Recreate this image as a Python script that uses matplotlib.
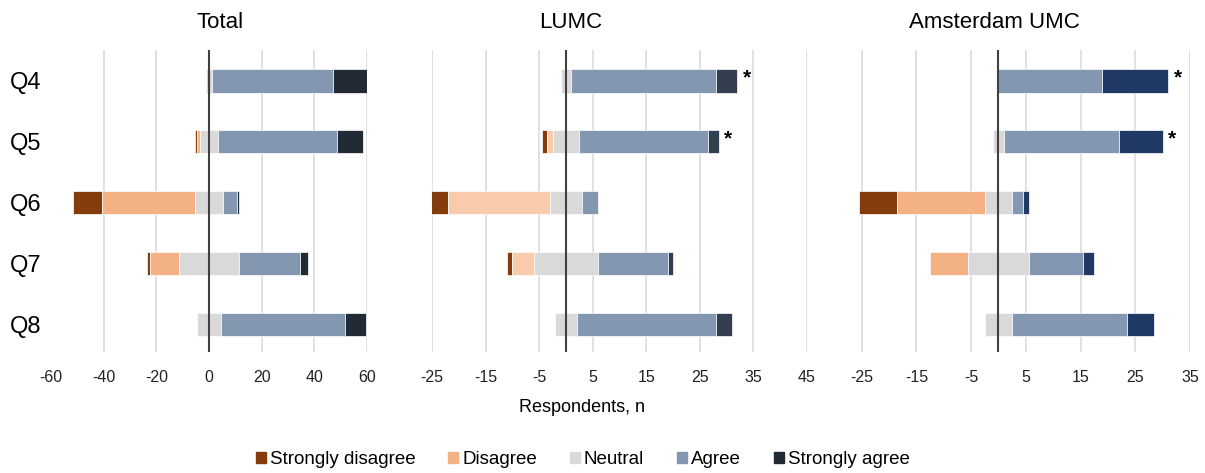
import matplotlib.pyplot as plt
from matplotlib.patches import Patch

# Likert answers per question, three panels (Total / LUMC / Amsterdam UMC)

questions = ["Q4", "Q5", "Q6", "Q7", "Q8"]
levels = ["Strongly disagree", "Disagree", "Neutral", "Agree", "Strongly agree"]

# Total
total_sd = [0, 1, 11, 1, 0]
total_d = [0, 1, 35, 11, 0]
total_n = [2, 7, 11, 23, 9]
total_a = [46, 45, 5, 23, 47]
total_sa = [16, 10, 1, 3, 8]

# LUMC
lumc_sd = [0, 1, 4, 1, 0]
lumc_d = [0, 1, 19, 4, 0]
lumc_n = [2, 5, 6, 12, 4]
lumc_a = [27, 24, 3, 13, 26]
lumc_sa = [4, 2, 0, 1, 3]

# Amsterdam UMC
amc_sd = [0, 0, 7, 0, 0]
amc_d = [0, 0, 16, 7, 0]
amc_n = [0, 2, 5, 11, 5]
amc_a = [19, 21, 2, 10, 21]
amc_sa = [12, 8, 1, 2, 5]

# questions marked with an asterisk
lumc_stars = ["Q4", "Q5"]
amc_stars = ["Q4", "Q5"]

plt.rcParams['font.family'] = ['Liberation Sans', 'DejaVu Sans']

fig = plt.figure(figsize=(12.05, 4.73), dpi=100)


def draw_panel(ax, sd, d, n, a, sa, colors, ticks, grid, xlim, stars=()):
    for x in grid:
        ax.axvline(x, color='#d9d9d9', lw=1.1, zorder=0)
    for i, q in enumerate(questions):
        vals = [sd[i], d[i], n[i], a[i], sa[i]]
        left = -(n[i] / 2 + d[i] + sd[i])
        for v, c in zip(vals, colors):
            if v > 0:
                ax.barh(i, v, left=left, height=0.39, color=c,
                        edgecolor='white', linewidth=0.5, zorder=2)
            left += v
        if q in stars:
            ax.annotate("*", xy=(left, i), xytext=(4, 2), textcoords='offset points',
                        ha='left', va='center', fontsize=15, fontweight='bold')
    ax.axvline(0, color='#404040', lw=1.5, zorder=3)
    ax.set_xlim(*xlim)
    ax.set_ylim(4.45, -0.5)
    ax.set_xticks(ticks)
    ax.set_xticklabels([str(t) for t in ticks])
    ax.tick_params(axis='x', length=0, pad=13, labelsize=11.5, labelcolor='#222222')
    ax.set_yticks([])
    for s in ax.spines.values():
        s.set_visible(False)


bottom = 0.256
height = 0.638

ax1 = fig.add_axes([0.0423, bottom, 0.2623, height])
draw_panel(ax1, total_sd, total_d, total_n, total_a, total_sa,
           ['#843c0c', '#f4b183', '#d9d9d9', '#8497b0', '#222a35'],
           ticks=range(-60, 61, 20), grid=range(-40, 61, 20), xlim=(-60, 60))
ax1.set_yticks(range(len(questions)))
ax1.set_yticklabels(questions)
ax1.tick_params(axis='y', length=0, pad=7, labelsize=17)

ax2 = fig.add_axes([0.3585, bottom, 0.3112, height])
draw_panel(ax2, lumc_sd, lumc_d, lumc_n, lumc_a, lumc_sa,
           ['#843c0c', '#f8cbad', '#d9d9d9', '#8497b0', '#333f50'],
           ticks=range(-25, 46, 10), grid=range(-25, 46, 10), xlim=(-25, 45),
           stars=lumc_stars)

ax3 = fig.add_axes([0.6697, bottom, 0.3178, height])
draw_panel(ax3, amc_sd, amc_d, amc_n, amc_a, amc_sa,
           ['#843c0c', '#f4b183', '#d9d9d9', '#8497b0', '#203864'],
           ticks=range(-25, 36, 10), grid=range(-25, 36, 10), xlim=(-35, 35),
           stars=amc_stars)

# titles over the zero lines
fig.text(0.183, 0.953, "Total", ha='center', va='center', fontsize=16)
fig.text(0.474, 0.953, "LUMC", ha='center', va='center', fontsize=16)
fig.text(0.825, 0.953, "Amsterdam UMC", ha='center', va='center', fontsize=16)

fig.text(0.483, 0.138, "Respondents, n", ha='center', va='center', fontsize=13)

handles = [Patch(color=c) for c in ['#843c0c', '#f4b183', '#d9d9d9', '#8497b0', '#222a35']]
fig.legend(handles, levels, loc='center', bbox_to_anchor=(0.4835, 0.028), ncol=5,
           frameon=False, fontsize=13.5, handlelength=0.55, handleheight=0.55,
           handletextpad=0.2, columnspacing=1.75)

fig.savefig("out.png", dpi=100)
